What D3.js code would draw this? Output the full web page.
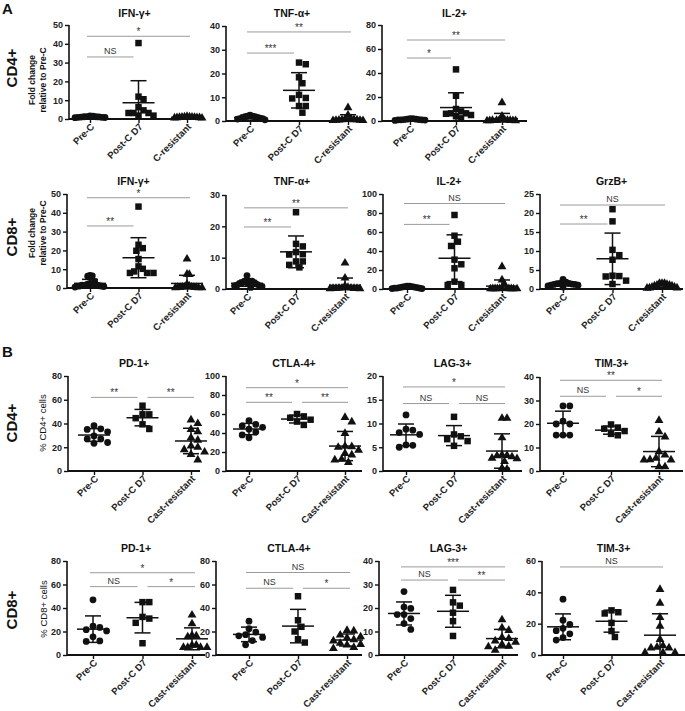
<!DOCTYPE html>
<html><head><meta charset="utf-8">
<script src="https://cdn.jsdelivr.net/npm/d3@7"></script>
<style>body{margin:0;background:#fff} svg{display:block} .sig{opacity:0.99}</style>
</head><body>
<svg id="c" width="685" height="711"></svg>
<script>
// ---------- categories ----------
const groupsA = ["Pre-C", "Post-C D7", "C-resistant"];
const groupsB = ["Pre-C", "Post-C D7", "Cast-resistant"];

// ---------- panel A, CD4+ (fold change relative to Pre-C) ----------
const cd4IFN = [
  [1.2, 0.8, 1.5, 0.9, 1.1, 1.0, 0.7, 1.3, 1.6, 0.9, 1.2],
  [40.4, 11.9, 10.5, 6.3, 4.6, 3.2, 3.2, 3.2, 1.8, 1.8],
  [1.2, 0.9, 0.7, 1.0, 0.5, 0.8, 1.1, 0.6, 1.4, 0.9, 0.7, 1.0]
];
const cd4TNF = [
  [2.5, 2.0, 1.8, 1.5, 1.2, 1.0, 1.0, 0.8, 0.5, 1.5, 1.8, 2.0],
  [24.6, 23.9, 18.4, 15.9, 11.0, 9.7, 9.5, 6.3, 6.3, 3.5],
  [5.6, 2.5, 1.0, 0.5, 0.3, 0.2, 0.5, 0.8, 0.3, 0.2, 0.4, 0.6]
];
const cd4IL2 = [
  [2.0, 1.5, 1.2, 1.0, 1.0, 0.8, 0.5, 1.0, 1.5, 2.0, 1.2],
  [43, 21, 10, 8, 6.4, 6.4, 6, 4, 2.2, 5],
  [15.3, 4.0, 1.0, 0.5, 0.3, 0.5, 0.2, 0.6, 0.4, 0.3, 0.5, 0.8]
];
// ---------- panel A, CD8+ ----------
const cd8IFN = [
  [6.5, 6.3, 6.7, 3.5, 2.5, 2.0, 2.0, 1.5, 1.5, 1.0, 1.0, 0.8, 1.2, 1.5, 0.5, 1.0],
  [43.3, 23, 21.2, 19.8, 15.4, 11.5, 10.2, 8.8, 8, 8, 8],
  [15.4, 7.4, 7.2, 2, 1, 0.5, 0.3, 0.3, 0.2, 0.2, 0.5, 0.3, 0.4, 0.2, 0.5]
];
const cd8TNF = [
  [4.3, 2.5, 2.5, 2.0, 2.0, 1.8, 1.5, 1.2, 1.0, 0.8, 0.5, 1.0, 2.0, 2.5],
  [24.5, 14.4, 13.6, 11.8, 11.1, 11.0, 8.8, 8.8, 7.7, 6.9],
  [8.3, 3.5, 1.0, 0.5, 0.3, 0.2, 0.2, 0.1, 0.3, 0.2, 0.1, 0.3, 0.2]
];
const cd8IL2 = [
  [3.0, 2.5, 2.0, 1.5, 1.0, 1.0, 0.5, 0.5, 1.0, 1.5, 2.0, 2.5, 3.0],
  [77.9, 56.1, 49.8, 45.3, 30.9, 26, 21.8, 7.7, 4.2, 4.2],
  [23.5, 9.5, 5.3, 1, 0.5, 0.3, 0.3, 0.2, 0.2, 0.5, 0.3, 0.4, 0.2, 0.3]
];
const cd8GrzB = [
  [2.55, 1.8, 1.5, 1.5, 1.2, 1.0, 1.0, 0.8, 0.5, 1.3, 1.4, 1.2],
  [21, 17.8, 10.3, 8.9, 7.7, 3.5, 3.4, 3.3, 2.2, 1.3],
  [1.5, 1.5, 1.2, 1.0, 0.8, 0.5, 0.3, 0.2, 0.3, 0.5, 0.8, 1.0, 1.5]
];
// ---------- panel B, CD4+ (% cells) ----------
const cd4PD1 = [
  [38.2, 35.5, 35, 33, 29.5, 27, 27, 24, 23.3],
  [55, 47.7, 47.7, 44.5, 39.3, 35.4],
  [43, 40, 35, 33, 28, 26, 21, 20, 18, 16, 14, 9.3]
];
const cd4CTLA4 = [
  [53, 49, 47.5, 46, 44, 41, 38, 35],
  [60, 57.5, 56, 54, 52, 48.5],
  [56.5, 51.6, 39.6, 26, 25.6, 25, 22, 18.6, 17, 12.3, 11.6, 9.1]
];
const cd4LAG3 = [
  [11.8, 8.8, 8.6, 8.1, 7.7, 5.5, 5.4, 5.0],
  [11.4, 7.7, 7.3, 6.7, 6.3, 5.3],
  [11.1, 11.1, 7.0, 3.4, 3.3, 3.2, 3.0, 2.7, 2.6, 2.0, 0.6, 0.4]
];
const cd4TIM3 = [
  [27.7, 27.7, 21.2, 20, 20, 15.3, 15.3, 15.3],
  [19.8, 18.5, 18, 17, 15.8, 15.2],
  [21.5, 16.7, 14.5, 8.2, 6.8, 5.5, 4.8, 4.7, 4.7, 1.8, 1.8]
];
// ---------- panel B, CD8+ ----------
const cd8PD1 = [
  [47, 24.5, 23.5, 21.5, 20.5, 15.5, 12, 11.5],
  [45, 45, 32.4, 31, 27.4, 10],
  [34, 26.6, 16.8, 16.2, 15.5, 8.4, 8.4, 6.4, 6.4, 6.4, 6.4]
];
const cd8CTLA4 = [
  [28.8, 22.4, 19.5, 17.3, 16.3, 15, 12.3, 8.7],
  [50, 29.6, 24, 20, 13.4, 10.6],
  [21, 20.5, 17, 15.5, 14.5, 13, 12, 10, 9, 8.5, 6.5, 5.5]
];
const cd8LAG3 = [
  [27, 20.4, 19.8, 17.2, 17.2, 15.5, 13.4, 10.9],
  [27.7, 22.4, 21, 18, 14.4, 8.1],
  [15, 11.5, 10.5, 7.5, 7, 6, 5.5, 4.5, 3.8, 3.5, 2]
];
const cd8TIM3 = [
  [35.6, 22.2, 19.5, 17, 15.5, 13.5, 11.1, 9.5],
  [28.5, 27.3, 26.5, 20.5, 15.3, 11.5],
  [41.9, 33.1, 24, 18.4, 10, 5.9, 4.5, 4.5, 5, 1.5, 1.5, 1.5]
];

// ---------- significance annotations: [from group, to group, level (data units), label] ----------
const sigCd4IFN = [[0, 1, 33, "NS"], [0, 2, 44, "*"]];
const sigCd4TNF = [[0, 1, 28.6, "***"], [0, 2, 37.5, "**"]];
const sigCd4IL2 = [[0, 1, 52.5, "*"], [0, 2, 67.5, "**"]];
const sigCd8IFN = [[0, 1, 33, "**"], [0, 2, 48, "*"]];
const sigCd8TNF = [[0, 1, 19.8, "**"], [0, 2, 25.9, "**"]];
const sigCd8IL2 = [[0, 1, 68, "**"], [0, 2, 90, "NS"]];
const sigCd8GrzB = [[0, 1, 17.1, "**"], [0, 2, 22.1, "NS"]];
const sigCd4PD1 = [[0, 1, 62, "**"], [1, 2, 62, "**"]];
const sigCd4CTLA4 = [[0, 2, 87.7, "*"], [0, 1, 72.3, "**"], [1, 2, 72.3, "**"]];
const sigCd4LAG3 = [[0, 2, 17.7, "*"], [0, 1, 14.2, "NS"], [1, 2, 14.2, "NS"]];
const sigCd4TIM3 = [[0, 2, 38.6, "**"], [0, 1, 31.8, "NS"], [1, 2, 31.8, "*"]];
const sigCd8PD1 = [[0, 2, 70, "*"], [0, 1, 58.2, "NS"], [1, 2, 58.2, "*"]];
const sigCd8CTLA4 = [[0, 2, 70.2, "NS"], [0, 1, 56.8, "NS"], [1, 2, 56.8, "*"]];
const sigCd8LAG3 = [[0, 2, 37.5, "***"], [0, 1, 31.9, "NS"], [1, 2, 31.9, "**"]];
const sigCd8TIM3 = [[0, 2, 56.2, "NS"]];

// ---------- y tick labels ----------
const ticks50by10 = [0, 10, 20, 30, 40, 50];
const ticks40by10 = [0, 10, 20, 30, 40];
const ticks30by10 = [0, 10, 20, 30];
const ticks80by20 = [0, 20, 40, 60, 80];
const ticks100by20 = [0, 20, 40, 60, 80, 100];
const ticks25by5 = [0, 5, 10, 15, 20, 25];
const ticks20by5 = [0, 5, 10, 15, 20];
const ticks60by20 = [0, 20, 40, 60];

// ---------- panel definitions ----------
const panels = [
  {title: "IFN-γ+", data: cd4IFN, sig: sigCd4IFN, ticks: ticks50by10, groups: groupsA},
  {title: "TNF-α+", data: cd4TNF, sig: sigCd4TNF, ticks: ticks40by10, groups: groupsA},
  {title: "IL-2+", data: cd4IL2, sig: sigCd4IL2, ticks: ticks80by20, groups: groupsA},
  {title: "IFN-γ+", data: cd8IFN, sig: sigCd8IFN, ticks: ticks50by10, groups: groupsA},
  {title: "TNF-α+", data: cd8TNF, sig: sigCd8TNF, ticks: ticks30by10, groups: groupsA},
  {title: "IL-2+", data: cd8IL2, sig: sigCd8IL2, ticks: ticks100by20, groups: groupsA},
  {title: "GrzB+", data: cd8GrzB, sig: sigCd8GrzB, ticks: ticks25by5, groups: groupsA},
  {title: "PD-1+", data: cd4PD1, sig: sigCd4PD1, ticks: ticks80by20, groups: groupsB},
  {title: "CTLA-4+", data: cd4CTLA4, sig: sigCd4CTLA4, ticks: ticks100by20, groups: groupsB},
  {title: "LAG-3+", data: cd4LAG3, sig: sigCd4LAG3, ticks: ticks20by5, groups: groupsB},
  {title: "TIM-3+", data: cd4TIM3, sig: sigCd4TIM3, ticks: ticks40by10, groups: groupsB},
  {title: "PD-1+", data: cd8PD1, sig: sigCd8PD1, ticks: ticks80by20, groups: groupsB},
  {title: "CTLA-4+", data: cd8CTLA4, sig: sigCd8CTLA4, ticks: ticks80by20, groups: groupsB},
  {title: "LAG-3+", data: cd8LAG3, sig: sigCd8LAG3, ticks: ticks40by10, groups: groupsB},
  {title: "TIM-3+", data: cd8TIM3, sig: sigCd8TIM3, ticks: ticks60by20, groups: groupsB}
];

// ---------- layout (pixel frames) ----------
const frames = [
  {x0: 69, x1: 200, yb: 119, yt: 25, c0: 90, c2: 187, ty: 17},
  {x0: 226, x1: 358, yb: 121, yt: 26, c0: 250, c2: 348, ty: 17},
  {x0: 382, x1: 527, yb: 121, yt: 25, c0: 410, c2: 502, ty: 17},
  {x0: 67, x1: 200, yb: 288, yt: 194, c0: 90, c2: 187, ty: 185},
  {x0: 226, x1: 358, yb: 289, yt: 195, c0: 247, c2: 345, ty: 185},
  {x0: 383, x1: 515, yb: 289, yt: 194, c0: 407, c2: 502, ty: 185},
  {x0: 540, x1: 683, yb: 289, yt: 194, c0: 563, c2: 662, ty: 185},
  {x0: 68, x1: 200, yb: 471, yt: 376, c0: 94, c2: 191, ty: 367},
  {x0: 226, x1: 362, yb: 471, yt: 376, c0: 249, c2: 345, ty: 367},
  {x0: 383, x1: 522, yb: 471, yt: 376, c0: 406, c2: 502, ty: 367},
  {x0: 540, x1: 683, yb: 471, yt: 377, c0: 563, c2: 659, ty: 367},
  {x0: 67, x1: 205, yb: 655, yt: 561, c0: 93, c2: 192, ty: 552},
  {x0: 216, x1: 362, yb: 655, yt: 561, c0: 249, c2: 347, ty: 552},
  {x0: 379, x1: 518, yb: 655, yt: 561, c0: 404, c2: 502, ty: 552},
  {x0: 542, x1: 685, yb: 655, yt: 561, c0: 563, c2: 660, ty: 552}
];

const FONT = "'Liberation Sans', Arial, Helvetica, sans-serif";
const svg = d3.select("#c");
const symbols = [d3.symbolCircle, d3.symbolSquare, d3.symbolTriangle];
const symSize = [36, 42, 34];

// beeswarm: spread overlapping points sideways, then compress to a max half-width
function swarm(vals, y, d, halfW) {
  const order = vals.map((v, i) => ({v, i, py: y(v)})).sort((a, b) => b.v - a.v);
  const placed = [];
  const step = d / 2;
  order.forEach(p => {
    for (let k = 0; k < 200; k++) {
      const n = Math.ceil(k / 2);
      const off = (k % 2 === 1 ? 1 : -1) * n * step;
      const ok = placed.every(q => (q.dx - off) ** 2 + (q.py - p.py) ** 2 >= d * d);
      if (ok) { p.dx = off; break; }
    }
    placed.push(p);
  });
  const m = d3.max(placed, p => Math.abs(p.dx)) || 0;
  const s = m > halfW ? halfW / m : 1;
  placed.forEach(p => p.dx *= s);
  return placed;
}

function drawPanel(p, f) {
  const g = svg.append("g");
  const yMax = p.ticks[p.ticks.length - 1];
  const y = d3.scaleLinear().domain([0, yMax]).range([f.yb, f.yt]);
  const x = d3.scalePoint().domain(p.groups).range([f.c0, f.c2]);

  // y axis
  const yg = g.append("g").attr("transform", `translate(${f.x0},0)`)
    .call(d3.axisLeft(y).tickValues(p.ticks).tickSize(4).tickPadding(2));
  yg.select(".domain").remove();
  yg.selectAll(".tick line").attr("stroke", "#111").attr("stroke-width", 1.4);
  yg.selectAll(".tick text").attr("font-family", FONT).attr("font-size", 9)
    .attr("font-weight", "bold").attr("fill", "#222");
  g.append("line").attr("x1", f.x0).attr("x2", f.x0).attr("y1", f.yb).attr("y2", f.yt)
    .attr("stroke", "#111").attr("stroke-width", 1.6);

  // x axis
  const xg = g.append("g").attr("transform", `translate(0,${f.yb})`)
    .call(d3.axisBottom(x).tickSize(4));
  xg.select(".domain").remove();
  xg.selectAll(".tick line").attr("stroke", "#111").attr("stroke-width", 1.4);
  xg.selectAll(".tick text")
    .attr("x", 0).attr("y", 0).attr("dy", "0.35em")
    .attr("transform", "translate(2,6) rotate(-45)")
    .attr("text-anchor", "end")
    .attr("font-family", FONT).attr("font-size", 9.5).attr("font-weight", "bold").attr("fill", "#222");
  g.append("line").attr("x1", f.x0).attr("x2", f.x1).attr("y1", f.yb).attr("y2", f.yb)
    .attr("stroke", "#111").attr("stroke-width", 1.8);

  // title
  g.append("text").attr("x", (f.x0 + f.x1) / 2).attr("y", f.ty).attr("text-anchor", "middle")
    .attr("font-family", FONT).attr("font-size", 10.5).attr("font-weight", "bold").attr("fill", "#111")
    .text(p.title);

  // points
  p.data.forEach((vals, gi) => {
    const cx = x(p.groups[gi]);
    const pts = swarm(vals, y, 6.8, 15);
    g.append("g").selectAll("path").data(pts).join("path")
      .attr("d", d3.symbol().type(symbols[gi]).size(symSize[gi]))
      .attr("transform", d => `translate(${cx + d.dx},${d.py})`)
      .attr("fill", "#111");
  });

  // mean ± SD
  p.data.forEach((vals, gi) => {
    const cx = x(p.groups[gi]);
    const m = d3.mean(vals), s = d3.deviation(vals);
    const hi = m + s, lo = Math.max(0, m - s);
    const eg = g.append("g").attr("stroke", "#111").attr("stroke-width", 1.5);
    eg.append("line").attr("x1", cx - 16).attr("x2", cx + 16).attr("y1", y(m)).attr("y2", y(m));
    eg.append("line").attr("x1", cx).attr("x2", cx).attr("y1", y(hi)).attr("y2", y(lo));
    eg.append("line").attr("x1", cx - 8).attr("x2", cx + 8).attr("y1", y(hi)).attr("y2", y(hi));
    if (m - s > 0) eg.append("line").attr("x1", cx - 8).attr("x2", cx + 8).attr("y1", y(lo)).attr("y2", y(lo));
  });

  // significance bars
  const sg = g.append("g").attr("class", "sig");
  p.sig.forEach(([a, b, lvl, lab]) => {
    const xa = x(p.groups[a]) + (a === 1 ? 5 : -3);
    const xb = x(p.groups[b]) + (b === 1 ? -5 : 3);
    const yy = y(lvl);
    sg.append("line").attr("x1", xa).attr("x2", xb).attr("y1", yy).attr("y2", yy)
      .attr("stroke", "#9a9a9a").attr("stroke-width", 1);
    sg.append("text").attr("x", (xa + xb) / 2).attr("y", yy - (lab === "NS" ? 3 : 1))
      .attr("text-anchor", "middle").attr("font-family", FONT)
      .attr("font-size", lab === "NS" ? 9 : 10).attr("fill", "#333").text(lab);
  });
}

panels.forEach((p, i) => drawPanel(p, frames[i]));

// ---------- row labels, axis titles, panel letters ----------
function vtext(x, y, txt, size, weight) {
  svg.append("text").attr("transform", `translate(${x},${y}) rotate(-90)`)
    .attr("text-anchor", "middle").attr("font-family", FONT).attr("font-size", size)
    .attr("font-weight", weight).attr("fill", "#111").text(txt);
}
const rowLabels = [["CD4+", 68], ["CD8+", 237], ["CD4+", 423], ["CD8+", 610]];
rowLabels.forEach(([t, yc]) => vtext(17, yc, t, 15, "bold"));
[[80], [233]].forEach(([yc]) => {
  vtext(35, yc, "Fold change", 8.5, "bold");
  vtext(46, yc, "relative to Pre-C", 8.5, "bold");
});
vtext(46, 423, "% CD4+ cells", 9.5, "normal");
vtext(47, 609, "% CD8+ cells", 9.5, "normal");

svg.append("text").attr("x", 2).attr("y", 14).attr("font-family", FONT).attr("font-size", 15)
  .attr("font-weight", "bold").attr("fill", "#111").text("A");
svg.append("text").attr("x", 2).attr("y", 357).attr("font-family", FONT).attr("font-size", 15)
  .attr("font-weight", "bold").attr("fill", "#111").text("B");
</script>
</body></html>
